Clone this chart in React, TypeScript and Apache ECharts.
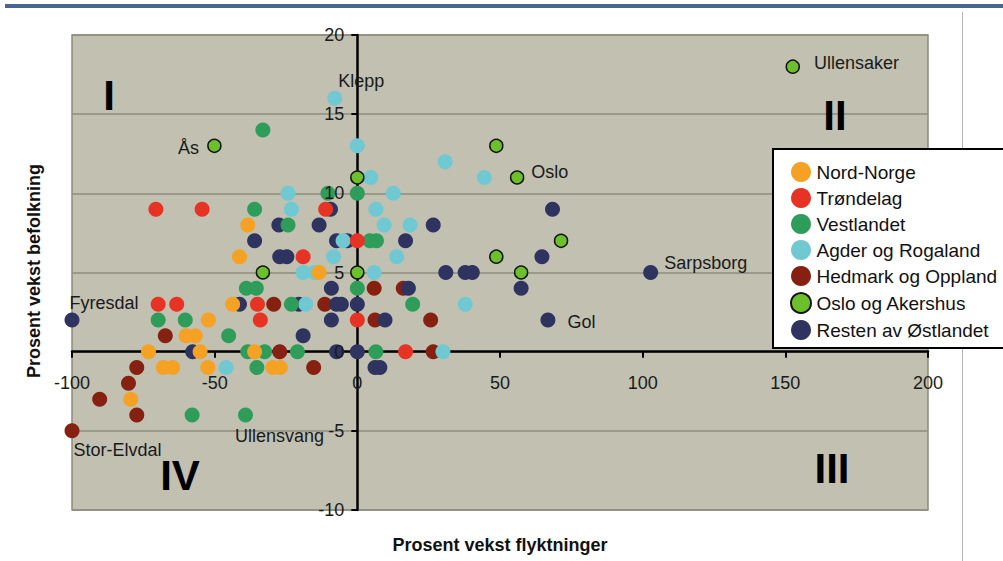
import React, { useEffect, useRef } from "react";
import * as echarts from "echarts";

// ---- Data (x: % growth refugees, y: % growth population) ----
const xTicks = [-100, -50, 0, 50, 100, 150, 200];
const yTicks = [-10, -5, 0, 5, 10, 15, 20];

const seriesNames = [
  "Nord-Norge",
  "Trøndelag",
  "Vestlandet",
  "Agder og Rogaland",
  "Hedmark og Oppland",
  "Oslo og Akershus",
  "Resten av Østlandet",
];

const nordNorge: [number, number][] = [
  [-38.4, 8], [-41.3, 6], [-13.4, 5], [-43.7, 3], [-52.2, 2], [-60, 1], [-56.8, 1],
  [-73.2, 0], [-55.1, 0], [-36, 0], [-68, -1], [-64.7, -1], [-52.4, -1], [-29.6, -1],
  [-27, -1], [-79.4, -3],
];

const trondelag: [number, number][] = [
  [-70.6, 9], [-54.4, 9], [-11.1, 9], [0, 7], [-19, 6], [-35, 3], [-69.8, 3],
  [-63.3, 3], [-34, 2], [0, 2], [16.9, 0],
];

const vestlandet: [number, number][] = [
  [-33.1, 14], [-10.3, 10], [0, 10], [-36, 9], [-24.3, 8], [4.4, 7], [6.7, 7],
  [-38.9, 4], [-35.4, 4], [0, 4], [-23.1, 3], [19.4, 3], [-69.8, 2], [-60.3, 2],
  [-45.1, 1], [-38.4, 0], [-32.5, 0], [-21, 0], [6.5, 0], [-35.2, -1], [-57.9, -4],
  [-39.2, -4],
];

const agderRogaland: [number, number][] = [
  [-7.9, 16], [0, 13], [30.8, 12], [4.7, 11], [44.5, 11], [-24.3, 10], [12.6, 10],
  [-23.1, 9], [6.5, 9], [9.4, 8], [18.5, 8], [-5, 7], [-8.3, 6], [13.8, 6], [-19, 5],
  [-14.9, 5], [5.9, 5], [-18.1, 3], [37.8, 3], [-46, -1], [30, 0],
];

const hedmarkOppland: [number, number][] = [
  [-29.3, 3], [-11.4, 3], [5.9, 4], [16.1, 4], [6.2, 2], [25.7, 2], [-67.3, 1],
  [-27.2, 0], [26.6, 0], [-15.3, -1], [-77.3, -1], [-80.2, -2], [-90.3, -3],
  [-77.3, -4], [-100, -5],
];

const osloAkershus: [number, number][] = [
  [152.6, 18], [-50.1, 13], [48.7, 13], [0, 11], [56, 11], [71.4, 7], [48.7, 6],
  [-33.1, 5], [0, 5], [57.4, 5],
];

const restenOstlandet: [number, number][] = [
  [-9.4, 9], [68.4, 9], [-27.5, 8], [-13.4, 8], [26.6, 8], [-36, 7], [-7.3, 7],
  [-3.5, 7], [16.9, 7], [-27.2, 6], [-24.7, 6], [64.7, 6], [31, 5], [37.8, 5],
  [40.3, 5], [102.8, 5], [-9.1, 4], [17.9, 4], [57.4, 4], [-41.3, 3], [-20.5, 3],
  [-7.3, 3], [-5.6, 3], [0, 3], [-100, 2], [-9.1, 2], [9.7, 2], [66.8, 2], [-19, 1],
  [-57.7, 0], [-7.3, 0], [0, 0], [6.2, -1], [7.9, -1],
];

// [series name, index of point in that series, municipality label]
const pointNames: [string, number, string][] = [
  ["Oslo og Akershus", 0, "Ullensaker"],
  ["Oslo og Akershus", 1, "Ås"],
  ["Oslo og Akershus", 4, "Oslo"],
  ["Agder og Rogaland", 0, "Klepp"],
  ["Resten av Østlandet", 15, "Sarpsborg"],
  ["Resten av Østlandet", 27, "Gol"],
  ["Resten av Østlandet", 24, "Fyresdal"],
  ["Hedmark og Oppland", 14, "Stor-Elvdal"],
  ["Vestlandet", 21, "Ullensvang"],
];

const quadrantLabels = ["I", "II", "III", "IV"];
const xAxisTitle = "Prosent vekst flyktninger";
const yAxisTitle = "Prosent vekst befolkning";

// ---- Layout & styles ----
const FONT = "'Liberation Sans', Arial, Helvetica, sans-serif";
const GRID = { left: 72, right: 75, top: 35, bottom: 51 };
const W = 1003;
const H = 561;

const seriesStyle: Record<string, any> = {
  "Nord-Norge": { color: "#f5a123", size: 15 },
  "Trøndelag": { color: "#e63323", size: 15 },
  "Vestlandet": { color: "#2f9d5a", size: 15 },
  "Agder og Rogaland": { color: "#6fc8d2", size: 15 },
  "Hedmark og Oppland": { color: "#862112", size: 15 },
  "Oslo og Akershus": { color: "#6cc02c", size: 13, border: true },
  "Resten av Østlandet": { color: "#2e3360", size: 15 },
};

const labelPlacement: Record<string, any> = {
  Ullensaker: { position: "right", distance: 14, offset: [0, -4] },
  "Ås": { position: "left", distance: 8, offset: [0, 2] },
  Oslo: { position: "right", distance: 7, offset: [0, -6] },
  Klepp: { position: "right", distance: 0, offset: [-4, -17] },
  Sarpsborg: { position: "right", distance: 6, offset: [0, -10] },
  Gol: { position: "right", distance: 12, offset: [0, 2] },
  Fyresdal: { position: "right", distance: 0, offset: [-10, -17] },
  "Stor-Elvdal": { position: "right", distance: 0, offset: [-6, 19] },
  Ullensvang: { position: "right", distance: 0, offset: [-18, 21] },
};

const quadrantPos: Record<string, [number, number]> = {
  I: [109, 95],
  II: [835, 115],
  III: [832, 468],
  IV: [180, 475],
};

const dataBySeries: Record<string, [number, number][]> = {
  "Nord-Norge": nordNorge,
  "Trøndelag": trondelag,
  "Vestlandet": vestlandet,
  "Agder og Rogaland": agderRogaland,
  "Hedmark og Oppland": hedmarkOppland,
  "Oslo og Akershus": osloAkershus,
  "Resten av Østlandet": restenOstlandet,
};

// drawing order (bottom first)
const drawOrder = [
  "Hedmark og Oppland",
  "Resten av Østlandet",
  "Agder og Rogaland",
  "Vestlandet",
  "Trøndelag",
  "Nord-Norge",
  "Oslo og Akershus",
];

function buildSeries() {
  return drawOrder.map((name) => {
    const st = seriesStyle[name];
    const data = dataBySeries[name].map((p, i) => {
      const named = pointNames.find((n) => n[0] === name && n[1] === i);
      if (!named) return { value: p };
      const lp = labelPlacement[named[2]];
      return {
        value: p,
        name: named[2],
        label: { show: true, ...lp },
      };
    });
    return {
      name,
      type: "scatter",
      xAxisIndex: 0,
      yAxisIndex: 0,
      clip: false,
      symbol: "circle",
      symbolSize: st.size,
      itemStyle: {
        color: st.color,
        opacity: 1,
        borderColor: st.border ? "#151515" : undefined,
        borderWidth: st.border ? 1.5 : 0,
      },
      label: {
        show: false,
        formatter: "{b}",
        fontSize: 18,
        fontFamily: FONT,
        color: "#1a1a1a",
      },
      emphasis: { disabled: true },
      data,
    };
  });
}

export default function App() {
  const ref = useRef<HTMLDivElement>(null);

  useEffect(() => {
    if (!ref.current) return;
    const chart = echarts.init(ref.current, undefined, { renderer: "svg" });

    // offsets that bring the axes onto the zero lines (axes cross at 0,0)
    const xMin = xTicks[0];
    const xMax = xTicks[xTicks.length - 1];
    const yMin = yTicks[0];
    const yMax = yTicks[yTicks.length - 1];
    const gw = W - GRID.left - GRID.right;
    const gh = H - GRID.top - GRID.bottom;
    const yAxisOffset = -((0 - xMin) / (xMax - xMin)) * gw;
    const xAxisOffset = -((0 - yMin) / (yMax - yMin)) * gh;

    const xBase = {
      type: "value",
      position: "bottom",
      offset: xAxisOffset,
      min: xMin,
      max: xMax,
      interval: xTicks[1] - xTicks[0],
    };
    const yBase = {
      type: "value",
      position: "left",
      offset: yAxisOffset,
      min: yMin,
      max: yMax,
      interval: yTicks[1] - yTicks[0],
    };
    const labelStyle = { fontSize: 18, color: "#1a1a1a", fontFamily: FONT };

    const option: any = {
      animation: false,
      backgroundColor: "#ffffff",
      textStyle: { fontFamily: FONT },
      grid: {
        ...GRID,
        show: true,
        backgroundColor: "#c1c0b1",
        borderColor: "#8d8c7c",
        borderWidth: 1.5,
        containLabel: false,
      },
      xAxis: [
        {
          ...xBase,
          axisLine: { show: true, onZero: false, lineStyle: { color: "#000", width: 2.5 } },
          axisTick: { show: true, length: 6, lineStyle: { color: "#000", width: 2 } },
          axisLabel: { show: false },
          splitLine: { show: false },
        },
        {
          ...xBase,
          z: 8,
          axisLine: { show: false, onZero: false },
          axisTick: { show: false },
          axisLabel: { ...labelStyle, margin: 22 },
          splitLine: { show: false },
        },
      ],
      yAxis: [
        {
          ...yBase,
          axisLine: { show: true, onZero: false, lineStyle: { color: "#000", width: 2.5 } },
          axisTick: { show: true, length: 6, lineStyle: { color: "#000", width: 2 } },
          axisLabel: { show: false },
          splitLine: { show: true, lineStyle: { color: "#8e8d7c", width: 1.5 } },
        },
        {
          ...yBase,
          z: 8,
          axisLine: { show: false, onZero: false },
          axisTick: { show: false },
          axisLabel: { ...labelStyle, margin: 13 },
          splitLine: { show: false },
        },
      ],
      legend: {
        orient: "vertical",
        left: 773,
        top: 149,
        z: 20,
        backgroundColor: "#ffffff",
        borderColor: "#000000",
        borderWidth: 2,
        borderRadius: 0,
        padding: [13, 40, 8, 17],
        itemWidth: 21,
        itemHeight: 20,
        itemGap: 6,
        icon: "circle",
        selectedMode: false,
        textStyle: { fontSize: 19, lineHeight: 20, color: "#111", fontFamily: FONT },
        data: seriesNames,
      },
      graphic: [
        {
          type: "rect",
          shape: { x: 5, y: 4, width: 998, height: 4 },
          style: { fill: "#4a6491" },
          silent: true,
        },
        {
          type: "line",
          shape: { x1: 962.5, y1: 12, x2: 962.5, y2: 561 },
          style: { stroke: "#b5b5b5", lineWidth: 1 },
          silent: true,
        },
        {
          type: "text",
          x: 500,
          y: 545,
          style: {
            text: xAxisTitle,
            fontSize: 18,
            fontWeight: "bold",
            fontFamily: FONT,
            fill: "#111",
            align: "center",
            verticalAlign: "middle",
          },
          silent: true,
        },
        {
          type: "text",
          x: 34,
          y: 271,
          rotation: Math.PI / 2,
          style: {
            text: yAxisTitle,
            fontSize: 18,
            fontWeight: "bold",
            fontFamily: FONT,
            fill: "#111",
            align: "center",
            verticalAlign: "middle",
          },
          silent: true,
        },
        ...quadrantLabels.map((q) => ({
          type: "text",
          x: quadrantPos[q][0],
          y: quadrantPos[q][1],
          z: 10,
          style: {
            text: q,
            fontSize: 42,
            fontWeight: "bold",
            fontFamily: FONT,
            fill: "#000",
            align: "center",
            verticalAlign: "middle",
          },
          silent: true,
        })),
      ],
      series: buildSeries(),
    };
    chart.setOption(option);
    return () => chart.dispose();
  }, []);

  return (
    <div
      ref={ref}
      style={{ position: "fixed", left: 0, top: 0, width: W, height: H }}
    />
  );
}
